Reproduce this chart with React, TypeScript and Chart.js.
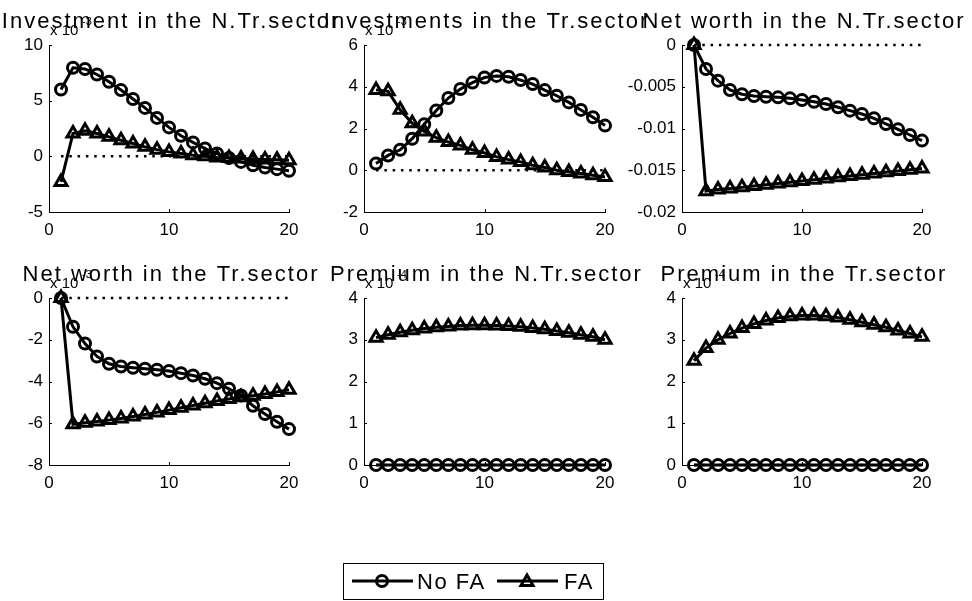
import React, { useEffect, useRef } from 'react';
import { Chart, registerables } from 'chart.js';
Chart.register(...registerables);

// ---------- data ----------
const periods = [1, 2, 3, 4, 5, 6, 7, 8, 9, 10, 11, 12, 13, 14, 15, 16, 17, 18, 19, 20];
const zeroLine = [0, 0];
const zeroLineX = [1, 20];

// Investment in the N.Tr.sector (x 10^-3)
const invNT_NoFA = [6.0, 7.95, 7.85, 7.35, 6.7, 5.95, 5.15, 4.35, 3.45, 2.6, 1.85, 1.25, 0.7, 0.25, -0.15, -0.5, -0.8, -1.0, -1.15, -1.3];
const invNT_FA = [-2.3, 2.05, 2.3, 2.05, 1.75, 1.45, 1.15, 0.85, 0.6, 0.4, 0.25, 0.1, 0.0, -0.1, -0.15, -0.2, -0.25, -0.28, -0.3, -0.35];
// Investments in the Tr.sector (x 10^-3)
const invT_NoFA = [0.32, 0.71, 0.98, 1.51, 2.2, 2.86, 3.46, 3.89, 4.2, 4.44, 4.52, 4.48, 4.32, 4.13, 3.84, 3.57, 3.25, 2.89, 2.54, 2.14];
const invT_FA = [3.85, 3.78, 2.9, 2.25, 1.86, 1.56, 1.35, 1.19, 0.98, 0.83, 0.64, 0.51, 0.4, 0.24, 0.13, 0.0, -0.08, -0.16, -0.24, -0.32];
// Net worth in the N.Tr.sector
const nwNT_NoFA = [0, -0.00287, -0.00427, -0.00539, -0.0059, -0.0061, -0.00619, -0.00627, -0.00639, -0.00659, -0.00679, -0.00707, -0.00746, -0.00786, -0.00826, -0.00878, -0.00946, -0.0101, -0.01078, -0.01145];
const nwNT_FA = [0, -0.0175, -0.0173, -0.0172, -0.01705, -0.0169, -0.01675, -0.0166, -0.01645, -0.0163, -0.01615, -0.016, -0.01585, -0.0157, -0.01555, -0.0154, -0.01525, -0.0151, -0.01495, -0.0148];
// Net worth in the Tr.sector (x 10^-3)
const nwT_NoFA = [0, -1.38, -2.18, -2.8, -3.15, -3.28, -3.34, -3.39, -3.44, -3.5, -3.6, -3.71, -3.87, -4.08, -4.35, -4.67, -5.16, -5.56, -5.93, -6.28];
const nwT_FA = [0, -6.05, -5.98, -5.92, -5.85, -5.77, -5.68, -5.58, -5.48, -5.37, -5.26, -5.15, -5.04, -4.93, -4.84, -4.76, -4.68, -4.6, -4.5, -4.4];
// Premium in the N.Tr.sector (x 10^-4)
const premNT_NoFA = [0, 0, 0, 0, 0, 0, 0, 0, 0, 0, 0, 0, 0, 0, 0, 0, 0, 0, 0, 0];
const premNT_FA = [3.05, 3.12, 3.18, 3.23, 3.27, 3.3, 3.32, 3.34, 3.35, 3.35, 3.34, 3.33, 3.31, 3.28, 3.25, 3.21, 3.17, 3.12, 3.07, 3.0];
// Premium in the Tr.sector (x 10^-4)
const premT_NoFA = [0, 0, 0, 0, 0, 0, 0, 0, 0, 0, 0, 0, 0, 0, 0, 0, 0, 0, 0, 0];
const premT_FA = [2.5, 2.8, 3.0, 3.15, 3.28, 3.38, 3.46, 3.52, 3.56, 3.58, 3.58, 3.56, 3.53, 3.48, 3.42, 3.36, 3.3, 3.22, 3.15, 3.07];

// ---------- ticks / labels ----------
const xTickValues = [0, 10, 20];
const yTicksInvNT = [-5, 0, 5, 10];
const yTicksInvT = [-2, 0, 2, 4, 6];
const yTicksNwNT = [-0.02, -0.015, -0.01, -0.005, 0];
const yTickLabelsNwNT = ['-0.02', '-0.015', '-0.01', '-0.005', '0'];
const yTicksNwT = [-8, -6, -4, -2, 0];
const yTicksPrem = [0, 1, 2, 3, 4];

const titles = [
  'Investment in the N.Tr.sector',
  'Investments in the Tr.sector',
  'Net worth in the N.Tr.sector',
  'Net worth in the Tr.sector',
  'Premium in the N.Tr.sector',
  'Premium in the Tr.sector',
];
const exponents = ['-3', '-3', '', '-3', '-4', '-4'];
const legendLabels = ['No FA', 'FA'];

// ---------- layout ----------
const W = 972;
const H = 601;
const FONT = '"Liberation Sans", Arial, Helvetica, sans-serif';
const X_H = 30;
const cols = [[49, 289], [364, 605], [682, 922]];
const rows = [[45, 212], [298, 465]];
const yAxisWidths = [45, 45, 75, 45, 45, 45];

type PanelCfg = {
  title: string;
  exp: string;
  noFA: number[];
  fa: number[];
  yTicks: number[];
  yLabels?: string[];
  yW: number;
  rect: { l: number; r: number; t: number; b: number };
  legend?: boolean;
};

const panelData = [
  { noFA: invNT_NoFA, fa: invNT_FA, yTicks: yTicksInvNT },
  { noFA: invT_NoFA, fa: invT_FA, yTicks: yTicksInvT },
  { noFA: nwNT_NoFA, fa: nwNT_FA, yTicks: yTicksNwNT, yLabels: yTickLabelsNwNT },
  { noFA: nwT_NoFA, fa: nwT_FA, yTicks: yTicksNwT },
  { noFA: premNT_NoFA, fa: premNT_FA, yTicks: yTicksPrem },
  { noFA: premT_NoFA, fa: premT_FA, yTicks: yTicksPrem },
];

const panels: PanelCfg[] = panelData.map((p, i) => {
  const c = cols[i % 3];
  const r = rows[Math.floor(i / 3)];
  return {
    ...p,
    title: titles[i],
    exp: exponents[i],
    yW: yAxisWidths[i],
    rect: { l: c[0], r: c[1], t: r[0], b: r[1] },
    legend: i === 4,
  };
});

function drawTriangle(ctx: CanvasRenderingContext2D, x: number, y: number, r: number) {
  ctx.beginPath();
  ctx.moveTo(x, y - r);
  ctx.lineTo(x + r * 0.866, y + r * 0.5);
  ctx.lineTo(x - r * 0.866, y + r * 0.5);
  ctx.closePath();
  ctx.stroke();
}

function Panel({ cfg }: { cfg: PanelCfg }) {
  const ref = useRef<HTMLCanvasElement>(null);
  useEffect(() => {
    const canvas = ref.current;
    if (!canvas) return;
    const decor = {
      id: 'decor',
      beforeDatasetsDraw(chart: any) {
        const { ctx, chartArea: a, scales } = chart;
        ctx.save();
        ctx.strokeStyle = '#000';
        ctx.lineWidth = 1;
        ctx.beginPath();
        scales.x.ticks.forEach((t: any) => {
          const px = Math.round(scales.x.getPixelForValue(t.value)) + 0.5;
          ctx.moveTo(px, a.bottom);
          ctx.lineTo(px, a.bottom - 3);
        });
        scales.y.ticks.forEach((t: any) => {
          const py = Math.round(scales.y.getPixelForValue(t.value)) + 0.5;
          ctx.moveTo(a.left, py);
          ctx.lineTo(a.left + 3, py);
        });
        ctx.stroke();
        ctx.restore();
      },
      afterDraw(chart: any) {
        const { ctx, chartArea: a } = chart;
        ctx.save();
        ctx.fillStyle = '#000';
        // title
        ctx.font = `22px ${FONT}`;
        (ctx as any).letterSpacing = '2px';
        ctx.textAlign = 'center';
        ctx.textBaseline = 'alphabetic';
        ctx.fillText(cfg.title, (a.left + a.right) / 2 + 2, a.top - 17);
        (ctx as any).letterSpacing = '0px';
        // exponent
        if (cfg.exp) {
          ctx.textAlign = 'left';
          ctx.font = `15px ${FONT}`;
          ctx.fillText('x 10', a.left + 1, a.top - 10);
          ctx.font = `11px ${FONT}`;
          ctx.fillText(cfg.exp, a.left + 33, a.top - 20);
        }
        // legend
        if (cfg.legend) {
          const bx = 343.5, by = 563.5, bw = 260, bh = 36;
          ctx.strokeStyle = '#000';
          ctx.lineWidth = 1;
          ctx.strokeRect(bx, by, bw, bh);
          const ly = 581;
          ctx.lineWidth = 3;
          ctx.beginPath();
          ctx.moveTo(352, ly);
          ctx.lineTo(413, ly);
          ctx.moveTo(497, ly);
          ctx.lineTo(558, ly);
          ctx.stroke();
          ctx.lineWidth = 3;
          ctx.beginPath();
          ctx.arc(382, ly, 5.5, 0, Math.PI * 2);
          ctx.stroke();
          drawTriangle(ctx, 527, ly + 1, 7);
          ctx.font = `22px ${FONT}`;
          (ctx as any).letterSpacing = '1.5px';
          ctx.textAlign = 'left';
          ctx.fillText(legendLabels[0], 417, 589);
          ctx.fillText(legendLabels[1], 564, 589);
        }
        ctx.restore();
      },
    };

    const tickFont = { family: FONT, size: 17 };
    const chart = new Chart(canvas, {
      type: 'line',
      data: {
        datasets: [
          {
            label: legendLabels[1],
            data: periods.map((x, i) => ({ x, y: cfg.fa[i] })),
            borderColor: '#000',
            borderWidth: 3,
            pointStyle: 'triangle',
            pointRadius: 7,
            pointBorderWidth: 3,
            pointBorderColor: '#000',
            pointBackgroundColor: 'rgba(0,0,0,0)',
            clip: false,
            order: 0,
          },
          {
            label: legendLabels[0],
            data: periods.map((x, i) => ({ x, y: cfg.noFA[i] })),
            borderColor: '#000',
            borderWidth: 3,
            pointStyle: 'circle',
            pointRadius: 5.5,
            pointBorderWidth: 3,
            pointBorderColor: '#000',
            pointBackgroundColor: 'rgba(0,0,0,0)',
            clip: false,
            order: 1,
          },
          {
            label: 'zero',
            data: zeroLineX.map((x, i) => ({ x, y: zeroLine[i] })),
            borderColor: '#000',
            borderWidth: 2.5,
            borderDash: [2.5, 5.8],
            pointRadius: 0,
            clip: false,
            order: 2,
          },
        ],
      } as any,
      options: {
        responsive: false,
        animation: false,
        devicePixelRatio: 1,
        events: [],
        layout: {
          padding: {
            left: cfg.rect.l - cfg.yW,
            right: W - cfg.rect.r,
            top: cfg.rect.t,
            bottom: H - cfg.rect.b - X_H,
          },
        },
        plugins: { legend: { display: false }, tooltip: { enabled: false } },
        scales: {
          x: {
            type: 'linear',
            min: 0,
            max: 20,
            afterBuildTicks: (s: any) => {
              s.ticks = xTickValues.map((v) => ({ value: v }));
            },
            afterFit: (s: any) => {
              s.height = X_H;
            },
            grid: { drawOnChartArea: false, drawTicks: false },
            border: { color: '#000', width: 1 },
            ticks: { font: tickFont, color: '#000', padding: 8, maxRotation: 0, autoSkip: false },
          },
          y: {
            type: 'linear',
            min: cfg.yTicks[0],
            max: cfg.yTicks[cfg.yTicks.length - 1],
            afterBuildTicks: (s: any) => {
              s.ticks = cfg.yTicks.map((v) => ({ value: v }));
            },
            afterFit: (s: any) => {
              s.width = cfg.yW;
            },
            grid: { drawOnChartArea: false, drawTicks: false },
            border: { color: '#000', width: 1 },
            ticks: {
              font: tickFont,
              color: '#000',
              padding: 6,
              autoSkip: false,
              callback: (v: any) =>
                cfg.yLabels ? cfg.yLabels[cfg.yTicks.indexOf(Number(v))] ?? String(v) : String(v),
            },
          },
        },
      } as any,
      plugins: [decor],
    });
    return () => chart.destroy();
  }, [cfg]);
  return (
    <canvas
      ref={ref}
      width={W}
      height={H}
      style={{ position: 'absolute', left: 0, top: 0, width: W, height: H }}
    />
  );
}

export default function App() {
  return (
    <div style={{ position: 'absolute', left: 0, top: 0, width: W, height: H, background: '#fff' }}>
      {panels.map((p, i) => (
        <Panel key={i} cfg={p} />
      ))}
    </div>
  );
}
